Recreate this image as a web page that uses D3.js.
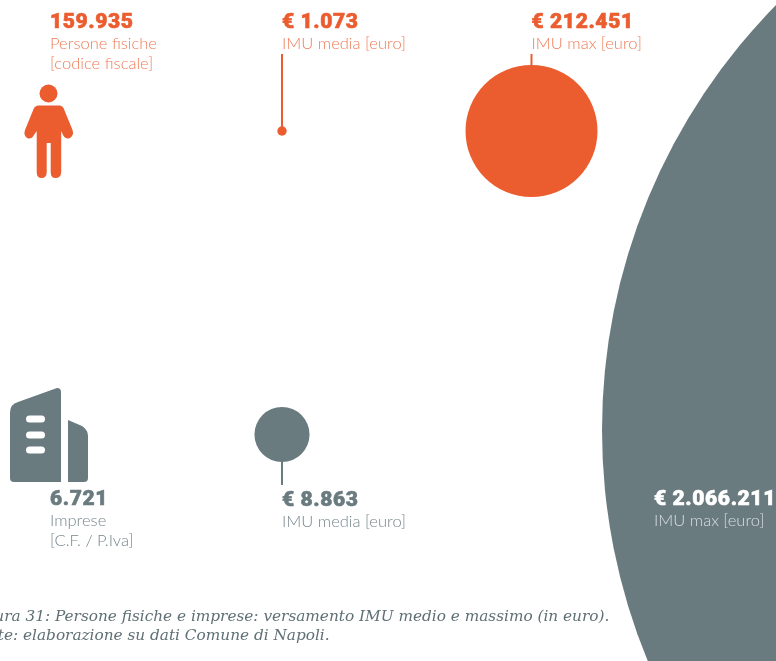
<!DOCTYPE html>
<html><head><meta charset="utf-8">
<script src="https://cdn.jsdelivr.net/npm/d3@7"></script>
<style>
html,body{margin:0;padding:0;background:#fff;overflow:hidden}
svg{display:block;filter:blur(0.35px)}
.num{font-family:Roboto,Lato,sans-serif;font-weight:900;font-size:21px;letter-spacing:.6px;stroke-width:.6px;paint-order:stroke}
.lab{font-family:Lato,Roboto,sans-serif;font-weight:300;font-size:16.55px}
.cap{font-family:"DejaVu Serif",serif;font-style:italic;font-size:15.3px;fill:#5f6f74}
</style></head><body>
<svg id="c" width="776" height="661"></svg>
<script>
const orange = "#EB5C2F", slate = "#6A7B80";
const personCount = 159935, companyCount = 6721;
const personValues = [1073, 212451];
const companyValues = [8863, 2066211];
const personLabels = ["IMU media [euro]", "IMU max [euro]"];
const companyLabels = ["IMU media [euro]", "IMU max [euro]"];
const personTitle = ["Persone fisiche","[codice fiscale]"];
const companyTitle = ["Imprese","[C.F. / P.Iva]"];
const captionLines = ["Figura 31: Persone fisiche e imprese: versamento IMU medio e massimo (in euro).", "Fonte: elaborazione su dati Comune di Napoli."];

const fmt = d3.formatLocale({decimal:",",thousands:".",grouping:[3],currency:["€ ",""]}).format(",");
const svg = d3.select("#c");
const rO = d3.scaleSqrt().domain([0, 212451]).range([0, 66]);
const rS = d3.scalePow().exponent(0.567).domain([0, 2066211]).range([0, 606]);
const xO = d3.scaleOrdinal().domain(personValues).range([282, 531.5]);
const xS = d3.scaleOrdinal().domain(companyValues).range([282, 1208]);
const yS = d3.scaleOrdinal().domain(companyValues).range([434.5, 430]);

function label(x, y, head, lines, col, labCol){
  svg.append("text").attr("class","num").attr("x",x).attr("y",y).attr("fill",col).attr("stroke",col).text(head);
  lines.forEach((l,i)=>svg.append("text").attr("class","lab").attr("x",x).attr("y",y+20.5+i*20).attr("fill",labCol).text(l));
}

svg.selectAll(".s").data(companyValues).join("circle")
  .attr("cx",d=>xS(d)).attr("cy",d=>yS(d)).attr("r",d=>rS(d)).attr("fill",slate);
svg.append("line").attr("x1",xS(companyValues[0])).attr("x2",xS(companyValues[0])).attr("y1",434).attr("y2",485).attr("stroke",slate).attr("stroke-width",2);

svg.selectAll(".o").data(personValues).join("circle")
  .attr("cx",d=>xO(d)).attr("cy",131).attr("r",d=>rO(d)).attr("fill",orange);
personValues.forEach(d=>svg.append("line").attr("x1",xO(d)).attr("x2",xO(d)).attr("y1",54).attr("y2",131).attr("stroke",orange).attr("stroke-width",2));

// person icon
const p = svg.append("g").attr("fill",orange);
p.append("circle").attr("cx",48.5).attr("cy",93.5).attr("r",9);
p.append("path").attr("d","M38 105.5 H60 Q62 105.5 63.5 108 L72.5 130 Q74.5 136 69 138.5 Q65 139 63 135 L61.2 131 V172 Q61 178 55.5 178 Q50.7 178 50.7 172 V143 H46.7 V172 Q46.7 178 41.5 178 Q36.7 178 36.7 172 V131 L34 135 Q32 139 28 138.5 Q23 136 25 130 L34 108 Q35.5 105.5 38 105.5 Z");

// building icon
const b = svg.append("g").attr("fill",slate);
b.append("path").attr("d","M57 388 Q61 388 61 392 V482 H14 Q10 482 10 478 V413 Q10 404 18 402 Z");
b.append("path").attr("d","M68 420 L82 426 Q88 430 88 436 V478 Q88 482 84 482 H68 Z");
[419,435,450].forEach(y=>b.append("rect").attr("x",26).attr("y",y-3.5).attr("width",19).attr("height",7).attr("rx",3.5).attr("fill","#fff"));

// labels
const lo = "#EF7C58", ls = "#76868B";
label(50, 28, fmt(personCount), personTitle, orange, lo);
personValues.forEach((d,i)=>label(xO(d), 28, "€ "+fmt(d), [personLabels[i]], orange, lo));
label(50, 505, fmt(companyCount), companyTitle, slate, ls);
label(282, 506, "€ "+fmt(companyValues[0]), [companyLabels[0]], slate, ls);
label(654, 505, "€ "+fmt(companyValues[1]), [companyLabels[1]], "#fff", "#d9dfe0");

captionLines.forEach((l,i)=>svg.append("text").attr("class","cap").attr("x",-31).attr("y",621+i*19).text(l));
</script>
</body></html>
